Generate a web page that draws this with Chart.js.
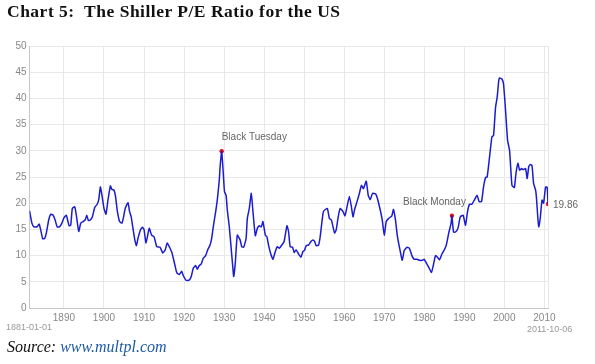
<!DOCTYPE html>
<html>
<head>
<meta charset="utf-8">
<script src="https://cdn.jsdelivr.net/npm/chart.js@4"></script>
<style>
  html, body { margin: 0; padding: 0; background: #fff; }
  #wrap { position: relative; width: 595px; height: 364px; overflow: hidden; }
  #chart { position: absolute; left: 0; top: 0; }
  .title { position: absolute; left: 7px; top: 1px; font: bold 17.5px "Liberation Serif", "DejaVu Serif", serif; letter-spacing: 0.5px; color: #111; white-space: nowrap; }
  .src { position: absolute; left: 7px; top: 338px; font: italic 16px "Liberation Serif", "DejaVu Serif", serif; color: #111; white-space: nowrap; }
  .src span { color: #1f5aa6; }
  .edge { position: absolute; font: 9px "Liberation Sans", Arial, sans-serif; color: #999; }
</style>
</head>
<body>
<div id="wrap">
  <canvas id="chart" width="595" height="364"></canvas>
  <div class="title">Chart 5:&nbsp; The Shiller P/E Ratio for the US</div>
  <div class="edge" style="left:6px; top:322px;">1881-01-01</div>
  <div class="edge" style="left:527px; top:324px;">2011-10-06</div>
  <div class="src">Source: <span>www.multpl.com</span></div>
</div>
<script>
// ---- data ----
const years = [
  1881.4, 1882.0, 1882.5, 1883.3, 1883.8, 1884.2, 1884.7, 1885.2, 1885.6, 1886.2,
  1886.7, 1887.3, 1887.8, 1888.3, 1888.9, 1889.5, 1890.0, 1890.6, 1891.0, 1891.3,
  1891.7, 1892.1, 1892.7, 1893.1, 1893.7, 1894.2, 1894.8, 1895.3, 1895.7, 1896.1,
  1896.6, 1897.1, 1897.7, 1898.3, 1898.7, 1899.1, 1899.5, 1900.0, 1900.5, 1901.0,
  1901.6, 1902.0, 1902.5, 1902.9, 1903.3, 1903.9, 1904.5, 1904.9, 1905.3, 1906.0,
  1906.4, 1906.8, 1907.3, 1907.7, 1908.1, 1908.5, 1909.1, 1909.6, 1910.0, 1910.5,
  1911.3, 1911.9, 1912.5, 1913.2, 1914.0, 1914.7, 1915.3, 1915.8, 1916.5, 1917.0,
  1917.8, 1918.2, 1918.8, 1919.4, 1919.8, 1920.5, 1921.3, 1921.8, 1922.3, 1922.9,
  1923.3, 1923.8, 1924.3, 1924.8, 1925.4, 1925.9, 1926.5, 1926.9, 1927.3, 1927.8,
  1928.3, 1928.8, 1929.0, 1929.4, 1929.8, 1930.1, 1930.5, 1930.8, 1931.3, 1931.8,
  1932.2, 1932.4, 1932.8, 1933.3, 1934.0, 1934.4, 1934.9, 1935.5, 1935.8, 1936.3,
  1936.8, 1937.2, 1937.8, 1938.3, 1938.8, 1939.3, 1939.7, 1940.3, 1940.7, 1941.1,
  1941.7, 1942.2, 1942.8, 1943.3, 1943.8, 1944.4, 1945.0, 1945.7, 1946.1, 1946.5,
  1947.1, 1947.5, 1948.0, 1948.6, 1949.2, 1949.7, 1950.1, 1950.5, 1951.1, 1951.7,
  1952.2, 1952.6, 1953.0, 1953.6, 1954.0, 1954.4, 1954.8, 1955.3, 1955.8, 1956.3,
  1956.8, 1957.2, 1957.6, 1958.0, 1958.5, 1959.0, 1959.7, 1960.2, 1960.7, 1961.3,
  1961.8, 1962.2, 1962.6, 1963.2, 1963.8, 1964.3, 1964.8, 1965.5, 1966.0, 1966.5,
  1967.1, 1967.9, 1968.4, 1969.0, 1969.5, 1970.0, 1970.5, 1971.1, 1971.9, 1972.3,
  1972.8, 1973.3, 1974.0, 1974.5, 1975.0, 1975.7, 1976.3, 1976.9, 1977.5, 1978.2,
  1978.8, 1979.5, 1980.0, 1980.5, 1981.1, 1981.8, 1982.3, 1982.8, 1983.3, 1983.8,
  1984.4, 1985.0, 1985.5, 1986.1, 1986.7, 1986.9, 1987.3, 1987.8, 1988.4, 1989.0,
  1989.7, 1990.3, 1990.8, 1991.3, 1991.9, 1992.5, 1993.2, 1993.7, 1994.3, 1994.8,
  1995.3, 1995.7, 1996.3, 1996.9, 1997.3, 1997.8, 1998.2, 1998.6, 1998.8, 1999.4,
  1999.8, 2000.3, 2000.8, 2001.3, 2001.9, 2002.5, 2002.9, 2003.4, 2003.8, 2004.3,
  2004.7, 2005.3, 2005.7, 2006.1, 2006.5, 2006.9, 2007.3, 2007.8, 2008.0, 2008.4,
  2008.6, 2009.0, 2009.4, 2009.8, 2010.3, 2010.7, 2010.9
];
const peRatio = [
  18.6, 16.2, 15.5, 15.5, 16.0, 14.9, 13.2, 13.3, 14.3, 16.8,
  17.9, 17.7, 16.8, 15.5, 15.5, 16.2, 17.2, 17.7, 16.5, 15.7,
  15.8, 19.0, 19.3, 17.7, 14.6, 16.2, 16.5, 16.8, 17.7, 16.7,
  16.8, 17.4, 19.2, 19.8, 20.7, 23.1, 21.5, 19.0, 17.9, 20.6,
  23.3, 22.6, 22.5, 21.2, 18.7, 16.5, 16.2, 17.4, 19.0, 20.1,
  18.4, 17.4, 14.9, 13.0, 11.9, 13.3, 14.9, 15.4, 15.0, 12.4,
  15.2, 13.9, 13.6, 11.7, 11.6, 10.5, 11.1, 12.4, 11.4, 10.5,
  7.9, 6.7, 6.4, 7.0, 6.2, 5.3, 5.3, 6.0, 7.6, 8.1,
  7.4, 8.1, 8.4, 9.5, 10.0, 11.1, 12.0, 13.3, 15.5, 17.9,
  20.6, 24.4, 26.9, 29.9, 25.7, 22.2, 21.5, 18.7, 15.5, 11.1,
  7.6, 6.0, 8.6, 13.9, 13.0, 11.7, 11.6, 13.3, 17.1, 19.0,
  21.9, 18.5, 13.8, 15.2, 15.7, 15.5, 16.5, 13.9, 13.6, 12.0,
  10.2, 9.3, 10.8, 11.7, 11.4, 12.0, 12.7, 15.7, 14.6, 11.7,
  11.6, 10.6, 11.1, 10.3, 9.7, 10.8, 11.0, 11.9, 12.0, 12.7,
  13.0, 12.7, 11.9, 12.0, 13.6, 16.2, 18.4, 18.8, 19.0, 17.1,
  16.8, 15.5, 14.3, 14.9, 17.4, 19.0, 18.4, 17.6, 19.3, 21.3,
  19.3, 17.4, 18.8, 20.3, 21.9, 23.4, 22.8, 24.2, 21.5, 20.7,
  21.9, 21.7, 20.6, 18.7, 16.8, 13.9, 16.5, 17.1, 17.6, 18.8,
  16.8, 13.6, 10.8, 9.1, 11.0, 11.6, 11.4, 10.0, 9.3, 9.3,
  9.1, 9.1, 9.3, 8.6, 7.8, 6.8, 8.3, 10.0, 9.7, 9.2,
  10.3, 11.1, 12.0, 14.3, 16.2, 17.6, 14.5, 14.5, 15.2, 17.4,
  17.7, 15.8, 18.4, 19.8, 19.8, 20.6, 21.5, 20.3, 20.3, 23.1,
  24.9, 25.0, 28.8, 32.7, 32.9, 38.3, 40.2, 43.4, 43.9, 43.7,
  42.7, 37.7, 32.0, 30.1, 23.4, 23.0, 25.7, 27.6, 26.3, 26.6,
  26.4, 26.6, 24.7, 27.0, 27.4, 27.2, 23.8, 22.5, 21.2, 16.8,
  15.5, 17.4, 20.6, 20.0, 23.1, 23.0, 19.86
];
const decadeTicks = [1890, 1900, 1910, 1920, 1930, 1940, 1950, 1960, 1970, 1980, 1990, 2000, 2010];
const yTicks = [0, 5, 10, 15, 20, 25, 30, 35, 40, 45, 50];
const markYears = [1929.4, 1986.9, 2010.9];
const markValues = [29.9, 17.6, 19.86];
const markLabels = ["Black Tuesday", "Black Monday", "19.86"];

const xMin = years[0], xMax = years[years.length - 1];

// labels next to the red markers
const markLabelPlugin = {
  id: "markLabels",
  afterDatasetsDraw(chart) {
    const ctx = chart.ctx;
    const meta = chart.getDatasetMeta(1);
    ctx.save();
    ctx.font = "10px 'Liberation Sans', Arial, sans-serif";
    ctx.fillStyle = "#666";
    ctx.textBaseline = "middle";
    meta.data.forEach((pt, i) => {
      if (i === 0) { ctx.textAlign = "left"; ctx.fillText(markLabels[i], pt.x, pt.y - 14); }
      else if (i === 1) { ctx.textAlign = "right"; ctx.fillText(markLabels[i], pt.x + 14, pt.y - 14); }
      else { ctx.textAlign = "left"; ctx.fillText(markLabels[i], pt.x + 5, pt.y + 1); }
    });
    ctx.restore();
  }
};

new Chart(document.getElementById("chart"), {
  type: "line",
  data: {
    datasets: [
      {
        data: years.map((y, i) => ({ x: y, y: peRatio[i] })),
        borderColor: "#1c1ccf",
        borderWidth: 1.5,
        pointRadius: 0,
        tension: 0.15,
        fill: false
      },
      {
        data: markYears.map((y, i) => ({ x: y, y: markValues[i] })),
        showLine: false,
        pointRadius: 2.2,
        pointBackgroundColor: "#ee1111",
        pointBorderWidth: 0
      }
    ]
  },
  options: {
    responsive: false,
    animation: false,
    layout: { padding: { left: 0, right: 47, top: 46, bottom: 36 } },
    plugins: { legend: { display: false }, tooltip: { enabled: false } },
    scales: {
      x: {
        type: "linear",
        min: xMin,
        max: xMax,
        afterBuildTicks: s => { s.ticks = decadeTicks.map(v => ({ value: v })).concat([{ value: xMax }]); },
        afterFit: s => { s.height = 20; },
        grid: { color: "#e8e8e8", drawTicks: false },
        border: { color: "#c8c8c8" },
        ticks: {
          color: "#888",
          font: { family: "'Liberation Sans', Arial, sans-serif", size: 10 },
          padding: 4,
          maxRotation: 0,
          autoSkip: false,
          callback: v => decadeTicks.includes(v) ? String(v) : ""
        }
      },
      y: {
        min: 0,
        max: 50,
        afterBuildTicks: s => { s.ticks = yTicks.map(v => ({ value: v })); },
        afterFit: s => { s.width = 29.5; },
        grid: { color: "#e8e8e8", drawTicks: false },
        border: { color: "#c8c8c8" },
        ticks: {
          color: "#888",
          font: { family: "'Liberation Sans', Arial, sans-serif", size: 10 },
          padding: 3
        }
      }
    }
  },
  plugins: [markLabelPlugin]
});
</script>
</body>
</html>
